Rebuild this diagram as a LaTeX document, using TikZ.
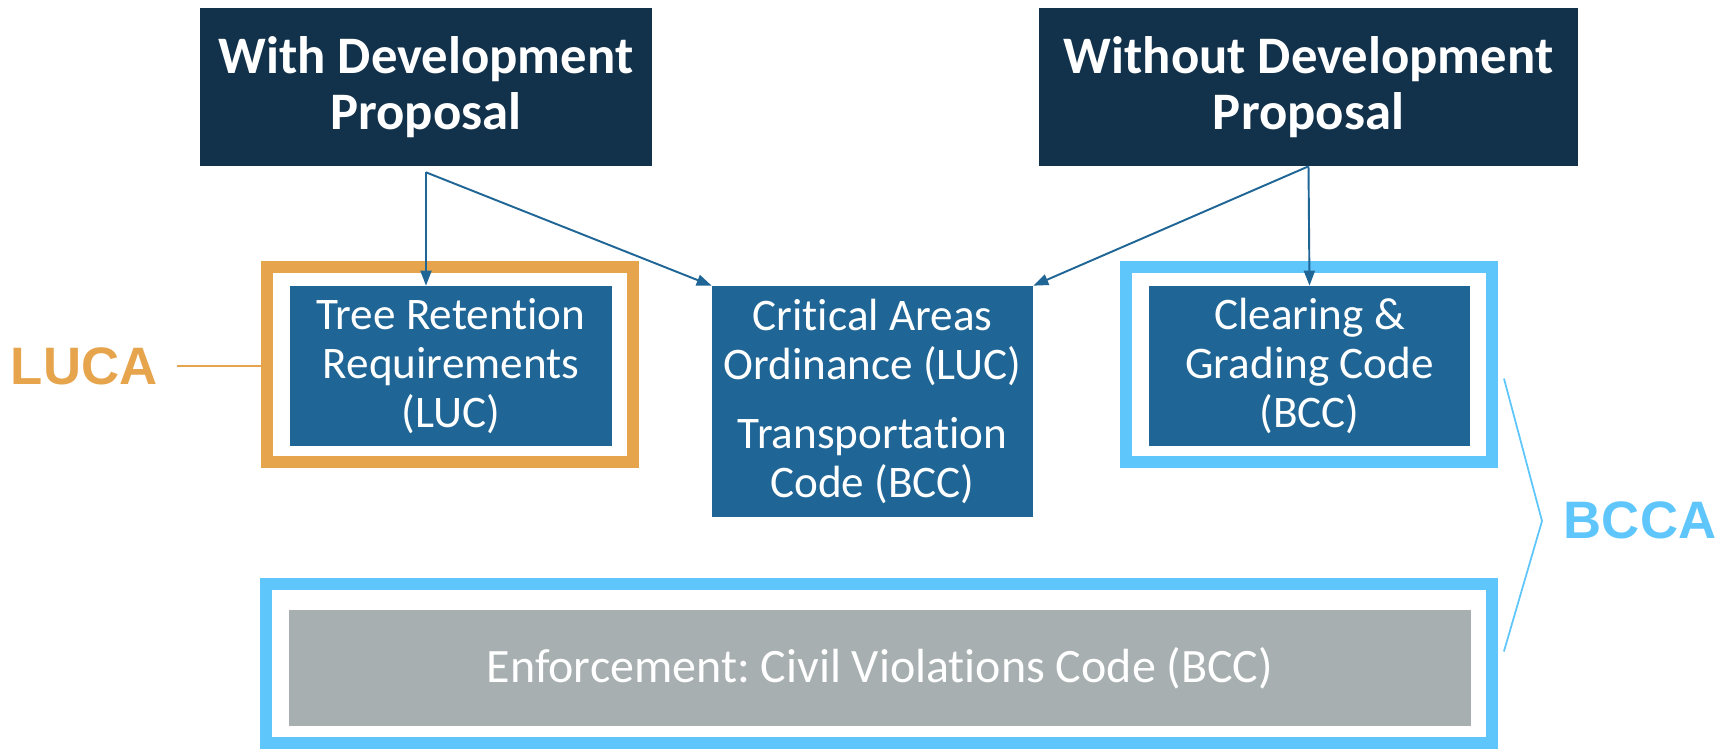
\documentclass[tikz,border=0pt]{standalone}
\usepackage{fontspec}
\setmainfont{Carlito}[Ligatures=NoCommon]
\newfontfamily\tagfont{Liberation Sans}
\usepackage{tikz}
\usetikzlibrary{arrows.meta,calc}
\frenchspacing

\definecolor{navy}{HTML}{12324B}
\definecolor{codeblue}{HTML}{1F6696}
\definecolor{lucaorange}{HTML}{E6A44C}
\definecolor{bccablue}{HTML}{5FC6FC}
\definecolor{enfgray}{HTML}{A7AFB1}

\begin{document}
\begin{tikzpicture}[x=0.02cm, y=-0.02cm,
  topbox/.style={fill=navy, text=white, font=\fontsize{30}{32}\selectfont\bfseries, align=center, minimum height=3.16cm, inner sep=0pt},
  codebox/.style={fill=codeblue, text=white, font=\fontsize{25.7}{28}\selectfont, align=center, minimum width=6.42cm, inner sep=0pt},
  areaframe/.style={draw=#1, line width=0.24cm, minimum width=7.34cm, minimum height=3.9cm, inner sep=0pt},
  areatag/.style={text=#1, font=\tagfont\fontsize{30}{36}\selectfont\bfseries},
  link/.style={draw=codeblue, line width=1.1pt, -{Triangle[length=0.3cm,width=0.22cm]}}
]

% Bounding box
\useasboundingbox (0,0) rectangle (1730,751);

% Proposal boxes
\node[topbox, minimum width=9.04cm] (with) at (426,87) {With Development\\Proposal};
\node[topbox, minimum width=10.78cm] (without) at (1308.5,87) {Without Development\\Proposal};

% Area frames
\node[areaframe=lucaorange] (lucaframe) at (450,364.5) {};
\node[areaframe=bccablue, minimum width=7.32cm] (clearframe) at (1309,364.5) {};
\node[areaframe=bccablue, minimum width=24.52cm, minimum height=3.18cm] (enfframe) at (879,663.5) {};

% Code boxes
\node[codebox, minimum width=6.44cm, minimum height=3.2cm] (tree) at (451,366) {Tree Retention\\Requirements\\(LUC)};
\node[codebox, minimum height=4.62cm] (critical) at (872.5,401.5) {Critical Areas\\Ordinance (LUC)\\[0.38cm]Transportation\\Code (BCC)};
\node[codebox, minimum height=3.2cm] (clearing) at (1309.5,366) {Clearing \&\\Grading Code\\(BCC)};
\node[codebox, fill=enfgray, font=\fontsize{27.3}{30}\selectfont, minimum width=23.64cm, minimum height=2.32cm] (enf) at (880,668) {Enforcement: Civil Violations Code (BCC)};

% Arrows
\coordinate (withfork) at ($(with.south)+(0,6)$);
\draw[link] (withfork) -- (withfork |- tree.north);
\draw[link] (withfork) -- (critical.north west);
\draw[link] (without.south) -- (critical.north east);
\draw[link] (without.south) -- (clearing.north);

% Area labels
\node[areatag=lucaorange] (luca) at (84,366) {LUCA};
\draw[lucaorange, line width=1.1pt, shorten <=8pt] (luca.east) -- (luca.east -| lucaframe.west);

\node[areatag=bccablue] (bcca) at (1640,520) {BCCA};
\coordinate (bracetip) at (1542,521);
\draw[bccablue, line width=1pt] ($(clearframe.east)+(6,14)$) -- (bracetip) -- ($(enfframe.east)+(6,-12)$);

\end{tikzpicture}
\end{document}
